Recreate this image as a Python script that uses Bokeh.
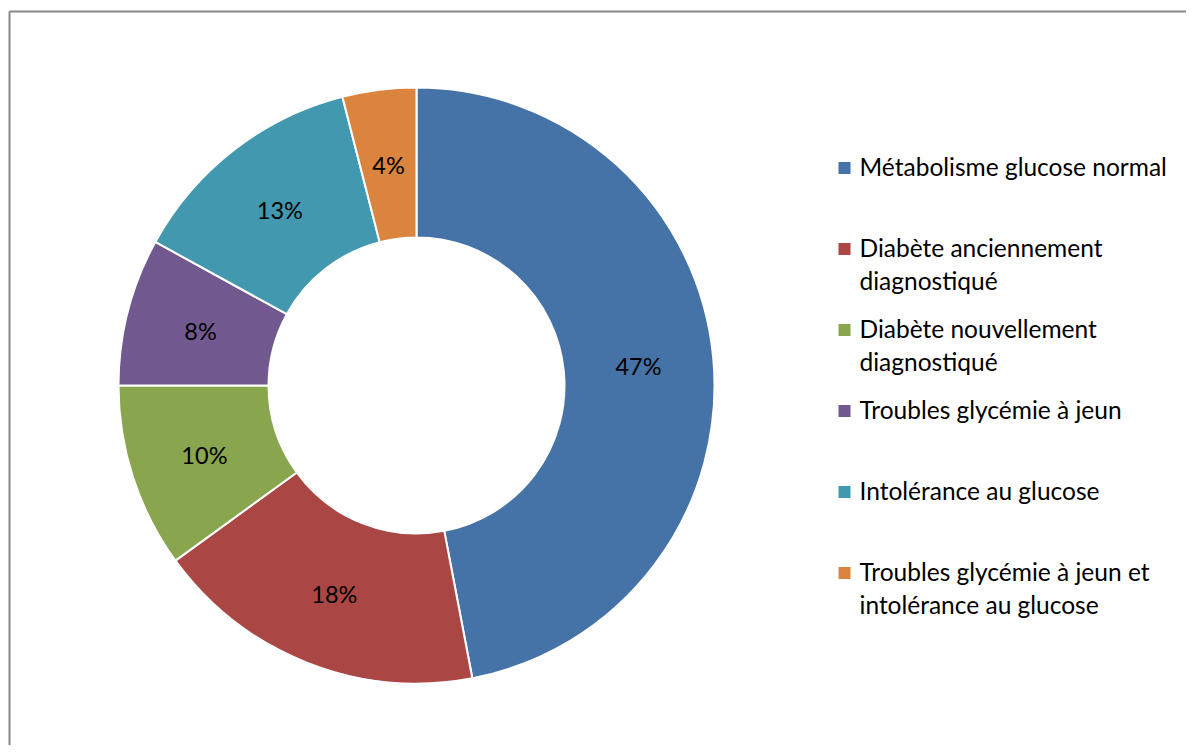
import math
from bokeh.plotting import figure
from bokeh.models import Range1d, ColumnDataSource
from bokeh.core.properties import value
from bokeh.embed import file_html
from bokeh.resources import INLINE

# ---- data ----
categories = [
    "Métabolisme glucose normal",
    "Diabète anciennement\ndiagnostiqué",
    "Diabète nouvellement\ndiagnostiqué",
    "Troubles glycémie à jeun",
    "Intolérance au glucose",
    "Troubles glycémie à jeun et\nintolérance au glucose",
]
percentages = [47, 18, 10, 8, 13, 4]
colors = ["#4572A7", "#AA4643", "#89A54E", "#71588F", "#4198AF", "#DB843D"]

# ---- layout (pixels) ----
W, H = 1186, 745
FONT = "Lato"
FS_LEG = "24.5px"
FS_LAB = "23.5px"

def dy(page_y):
    return H - page_y

def dx(page_x):
    return page_x

p = figure(width=W, height=H, output_backend="svg", toolbar_location=None,
           x_range=Range1d(0, W), y_range=Range1d(0, H), min_border=0,
           tools="")
p.axis.visible = False
p.grid.visible = False
p.outline_line_color = None
p.background_fill_color = "white"
p.border_fill_color = "white"

# frame border (top and left visible)
p.segment(x0=[dx(9), dx(9)], y0=[dy(11), dy(11)], x1=[dx(9), W + 5], y1=[-5, dy(11)],
          line_color="#878787", line_width=2)

cx, cy = dx(416), dy(385)
r_out, r_in = 298, 148
total = sum(percentages)
starts, ends, mids = [], [], []
cum = 0.0
for v in percentages:
    a0 = math.pi / 2 - cum / total * 2 * math.pi
    cum += v
    a1 = math.pi / 2 - cum / total * 2 * math.pi
    starts.append(a0)
    ends.append(a1)
    mids.append((a0 + a1) / 2)

src = ColumnDataSource(dict(start=starts, end=ends, color=colors))
p.annular_wedge(x=cx, y=cy, inner_radius=r_in, outer_radius=r_out,
                start_angle="start", end_angle="end", direction="clock",
                fill_color="color", line_color="white", line_width=2, source=src)

r_lab = (r_in + r_out) / 2
lab_x = [cx + r_lab * math.cos(m) for m in mids]
lab_y = [cy + r_lab * math.sin(m) - 1 for m in mids]
p.text(x=lab_x, y=lab_y, text=[f"{v}%" for v in percentages],
       text_align="center", text_baseline="middle",
       text_font=value(FONT), text_font_size=FS_LAB, text_color="#000000")

# legend
leg_x_sq = dx(844)
leg_x_txt = dx(859)
leg_top = 166
leg_step = 81
line_h = 33
sq_x, sq_y, tx, ty, tt = [], [], [], [], []
for i, lab in enumerate(categories):
    y0 = leg_top + i * leg_step
    sq_x.append(leg_x_sq)
    sq_y.append(dy(y0 + 1.5))
    for j, line in enumerate(lab.split("\n")):
        tx.append(leg_x_txt)
        ty.append(dy(y0 + j * line_h))
        tt.append(line)
p.rect(x=sq_x, y=sq_y, width=12, height=12, fill_color=colors, line_color=None)
p.text(x=tx, y=ty, text=tt, text_align="left", text_baseline="middle",
       text_font=value(FONT), text_font_size=FS_LEG, text_color="#000000")

open("out.html", "w").write(file_html(p, INLINE))
